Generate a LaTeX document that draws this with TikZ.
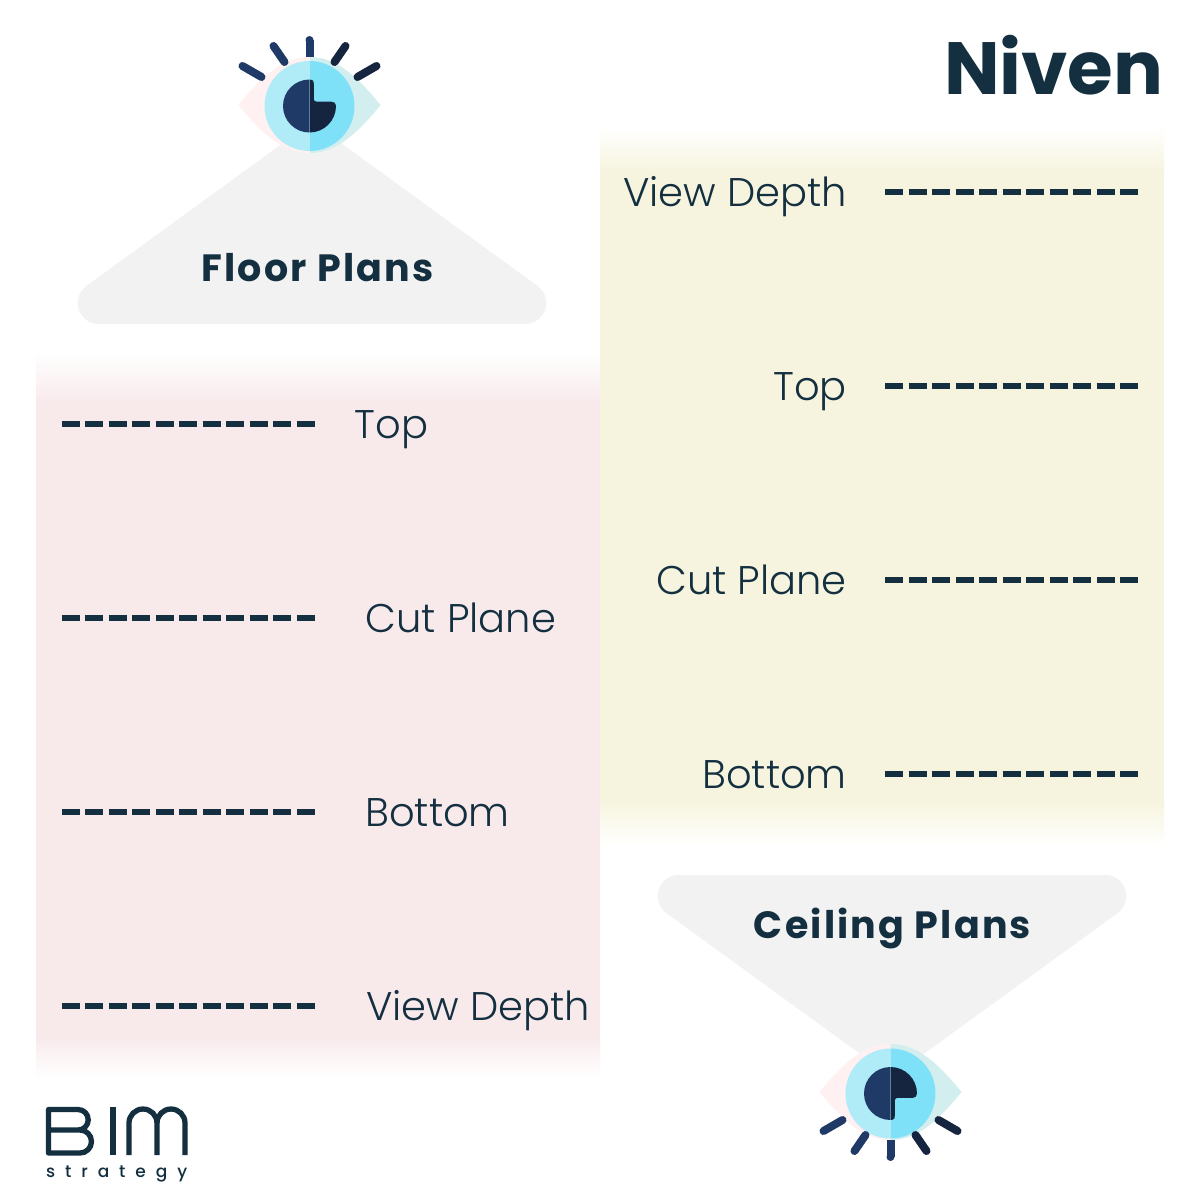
\documentclass[tikz,border=0pt]{standalone}
\usepackage{fontspec}
\setmainfont{Poppins}
\newfontfamily\lightfont{Poppins Light}
\newfontfamily\planfont[LetterSpace=5.8]{Poppins Bold}
\newfontfamily\logofont{Poppins Medium}
\usetikzlibrary{calc}
\definecolor{ink}{HTML}{132F40}
\definecolor{pinkbg}{HTML}{F8E9EB}
\definecolor{yellowbg}{HTML}{F6F4DE}
\definecolor{trigrey}{HTML}{F2F2F2}
\definecolor{lidL}{HTML}{FFF0F1}
\definecolor{lidR}{HTML}{D3EEEE}
\definecolor{irisL}{HTML}{B0ECF8}
\definecolor{irisR}{HTML}{7FE1F8}
\definecolor{pupL}{HTML}{1F3A66}
\definecolor{pupR}{HTML}{15243F}
\tikzset{
  levelline/.style={ink,line width=6.4pt,dash pattern=on 18pt off 5.5pt},
  levellabel/.style={text=ink,font=\lightfont\fontsize{40}{40}\selectfont,inner sep=0pt,anchor=base west},
  levellabelR/.style={levellabel,anchor=base east},
  planlabel/.style={text=ink,font=\planfont\fontsize{38}{38}\selectfont,inner sep=0pt,anchor=base},
  ray/.style={line width=8pt,line cap=round},
  logostroke/.style={ink,line width=5.3pt}
}
\newcommand{\eyeicon}[4]{%
\begin{scope}[shift={(#1,#2)},yscale=#3]
  \begin{scope}
    \clip (-80,-60) rectangle (0,60);
    \fill[lidL] (-71,0) .. controls (-42,-36) and (-22,-48) .. (0,-48) .. controls (22,-48) and (42,-36) .. (71,0) .. controls (42,36) and (22,48) .. (0,48) .. controls (-22,48) and (-42,36) .. (-71,0) -- cycle;
    \fill[irisL] (0,#4) circle[radius=45];
    \fill[pupL] (0,#4) circle[radius=26.5];
  \end{scope}
  \begin{scope}
    \clip (0,-60) rectangle (80,60);
    \fill[lidR] (-71,0) .. controls (-42,-36) and (-22,-48) .. (0,-48) .. controls (22,-48) and (42,-36) .. (71,0) .. controls (42,36) and (22,48) .. (0,48) .. controls (-22,48) and (-42,36) .. (-71,0) -- cycle;
    \fill[irisR] (0,#4) circle[radius=45];
    \fill[pupR] (0,#4) circle[radius=26.5];
  \end{scope}
  \begin{scope}[shift={(0,#4)}]
    \fill[irisR] (1.5,-32) -- (1.5,-26.6) .. controls (3.5,-26.4) and (4.5,-25) .. (4.5,-22) -- (4.5,-7) .. controls (4.5,-5.5) and (5.5,-4.5) .. (7,-4.5) -- (22,-4.5) .. controls (25,-4.5) and (26.4,-3) .. (26.7,0) -- (32,0) -- (32,-32) -- cycle;
  \end{scope}
  \draw[ray,pupL] (-67,-39) -- (-48,-28);
  \draw[ray,pupL] (-36,-59) -- (-25,-43);
  \draw[ray,pupL,line cap=butt] (0,-65) -- (0,-48);
  \fill[pupL] (0,-65) circle[radius=4];
  \draw[ray,pupR] (36,-59) -- (25,-43);
  \draw[ray,pupR] (67,-39) -- (48,-28);
\end{scope}}
\begin{document}
\begin{tikzpicture}[x=1pt,y=-1pt]
\useasboundingbox (0,0) rectangle (1200,1200);
\fill[white] (0,0) rectangle (1200,1200);
% backgrounds
\shade[top color=white,bottom color=pinkbg] (36,352) rectangle (600,405);
\fill[pinkbg] (36,404.5) rectangle (600,1035.5);
\shade[top color=pinkbg,bottom color=white] (36,1035) rectangle (600,1078);
\shade[top color=white,bottom color=yellowbg] (600,128) rectangle (1164,172);
\fill[yellowbg] (600,171.5) rectangle (1164,800.5);
\shade[top color=yellowbg,bottom color=white] (600,800) rectangle (1164,846);
% cones
\fill[trigrey] (98.7,324) arc[start angle=90,end angle=234,radius=21] -- (312,122) -- (537.6,286) arc[start angle=-54,end angle=90,radius=21] -- cycle;
\fill[trigrey] (678.7,875) arc[start angle=-90,end angle=-234,radius=21] -- (892,1077) -- (1117.6,913) arc[start angle=54,end angle=-90,radius=21] -- cycle;
% eyes
\eyeicon{309.5}{105}{1}{1}
\eyeicon{890.5}{1092}{-1}{-1.5}
% title
\node[text=ink,font=\bfseries\fontsize{74}{74}\selectfont,inner sep=0pt,anchor=base east] (title) at (1163.5,94) {Niven};
\node[planlabel] (floor) at (317.5,281) {Floor Plans};
\node[planlabel] (ceiling) at (892.5,938.5) {Ceiling Plans};
% left levels
\foreach \n/\yy/\xx/\t in {a/424/354.5/Top,b/618/365.5/Cut Plane,c/812/365/Bottom,d/1006/366/View Depth}{
  \coordinate (l\n s) at (61.7,\yy);
  \coordinate (l\n e) at (315,\yy);
  \draw[levelline] (l\n s) -- (l\n e);
  \node[levellabel] (lt\n) at (\xx,\yy+14.3) {\t};
}
% right levels
\foreach \n/\yy/\t in {a/192/View Depth,b/386/Top,c/580/Cut Plane,d/774/Bottom}{
  \coordinate (r\n s) at (885,\yy);
  \coordinate (r\n e) at (1138.3,\yy);
  \draw[levelline] (r\n s) -- (r\n e);
  \node[levellabelR] (rt\n) at (847,\yy+14.3) {\t};
}
% logo
\draw[logostroke,line join=round] (48.5,1130) -- (80,1130) arc[start angle=-90,end angle=90,radius=11.5] -- (48.5,1153) -- (48.5,1109.5) -- (78,1109.5) arc[start angle=-90,end angle=90,radius=10.25];
\draw[logostroke] (113,1107) -- (113,1155);
\draw[logostroke] (129,1155) -- (129,1123) arc[start angle=180,end angle=360,radius=14] -- (157,1155);
\draw[logostroke] (157,1123) arc[start angle=180,end angle=360,radius=14] -- (185,1155);
\node[text=ink,font=\logofont\fontsize{17}{17}\selectfont,inner sep=0pt,anchor=base west] (logotext) at (46,1177.5) {\makebox[141pt][s]{s\hfill t\hfill r\hfill a\hfill t\hfill e\hfill g\hfill y}};
\end{tikzpicture}
\end{document}
